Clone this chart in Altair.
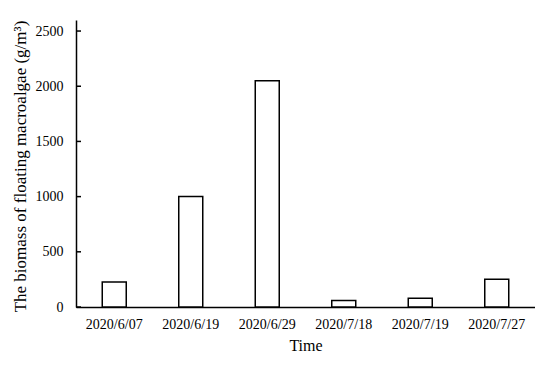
import altair as alt
import pandas as pd

dates = ["2020/6/07", "2020/6/19", "2020/6/29", "2020/7/18", "2020/7/19", "2020/7/27"]
biomass = [226, 1000, 2050, 58, 79, 252]
y_ticks = [0, 500, 1000, 1500, 2000, 2500]

df = pd.DataFrame({"date": dates, "biomass": biomass})
tick_df = pd.DataFrame({"v": y_ticks})

FONT = "Liberation Serif"

bars = alt.Chart(df).mark_bar(
    fill="white", stroke="black", strokeWidth=1.5, width=24
).encode(
    x=alt.X("date:N", sort=dates, title="Time",
            scale=alt.Scale(paddingInner=0.69, paddingOuter=0.345),
            axis=alt.Axis(labelAngle=0, ticks=False, labelPadding=10,
                          titlePadding=6, domainColor="black", domainWidth=1.5,
                          labelFont=FONT, labelFontSize=14, labelColor="black",
                          titleFont=FONT, titleFontSize=16, titleFontWeight="normal",
                          titleColor="black")),
    y=alt.Y("biomass:Q", title="The biomass of floating macroalgae (g/m³)",
            scale=alt.Scale(domain=[0, 2500]),
            axis=alt.Axis(values=y_ticks, format="d", ticks=False, grid=False,
                          labelPadding=13,
                          titleX=-51, titleY=146, titleAngle=270,
                          titleAlign="center", titleBaseline="alphabetic",
                          domainColor="black", domainWidth=1.5,
                          labelFont=FONT, labelFontSize=14, labelColor="black",
                          titleFont=FONT, titleFontSize=17, titleFontWeight="normal",
                          titleColor="black")),
)

ticks = alt.Chart(tick_df).mark_rule(color="black", strokeWidth=1.5).encode(
    y=alt.Y("v:Q"),
    x=alt.value(0),
    x2=alt.value(5),
)

chart = alt.layer(bars, ticks).properties(
    width=459, height=287,
    autosize=alt.AutoSizeParams(type="none"),
    padding={"left": 68, "top": 12, "right": 0, "bottom": 60},
).configure_view(stroke=None)

chart.save("out.html", embed_options={"renderer": "svg", "actions": False})
